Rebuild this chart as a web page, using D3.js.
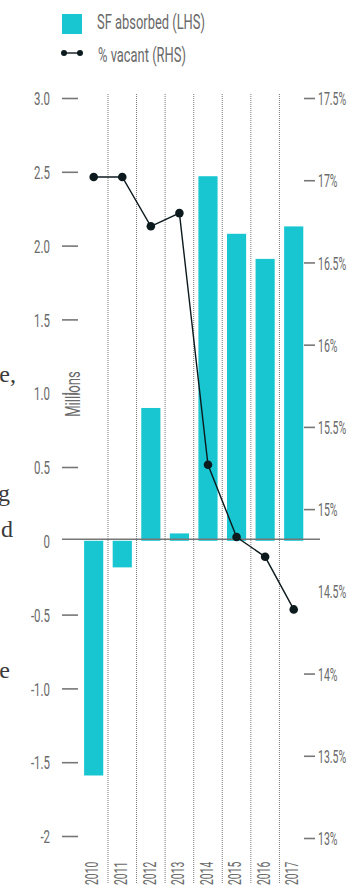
<!DOCTYPE html>
<html>
<head>
<meta charset="utf-8">
<script src="https://cdn.jsdelivr.net/npm/d3@7"></script>
<style>
  html, body { margin: 0; padding: 0; background: #fff; }
  svg { display: block; }
</style>
</head>
<body>
<svg id="chart" width="356" height="888"></svg>
<script>
// Office market: square feet absorbed (left axis, millions) and vacancy rate (right axis)
const years = ["2010", "2011", "2012", "2013", "2014", "2015", "2016", "2017"];
const sfAbsorbed = [-1.59, -0.18, 0.90, 0.05, 2.47, 2.08, 1.91, 2.13];
const pctVacant = [17.02, 17.02, 16.72, 16.80, 15.27, 14.83, 14.71, 14.39];

const leftTicks = [3.0, 2.5, 2.0, 1.5, 1.0, 0.5, 0, -0.5, -1.0, -1.5, -2];
const leftTickLabels = ["3.0", "2.5", "2.0", "1.5", "1.0", "0.5", "0", "-0.5", "-1.0", "-1.5", "-2"];
const rightTicks = [17.5, 17, 16.5, 16, 15.5, 15, 14.5, 14, 13.5, 13];
const rightTickLabels = ["17.5%", "17%", "16.5%", "16%", "15.5%", "15%", "14.5%", "14%", "13.5%", "13%"];

// Fragments of the neighbouring body copy, clipped by the left page edge
const marginText = [
  { t: "e,", x: 16, y: 382 },
  { t: "g", x: 10, y: 501 },
  { t: "d", x: 13, y: 537 },
  { t: "e", x: 10, y: 678 }
];

const BAR = "#17c6d1";
const LINE = "#0c1a1e";
const GREY = "#6a6a6a";
const FONT = "Roboto, 'Open Sans', sans-serif";

const svg = d3.select("#chart");

const x = d3.scaleBand().domain(years).range([79.4, 308]).paddingInner(0.33).paddingOuter(0.165);
const yL = d3.scaleLinear().domain([-2, 3]).range([836, 98]);
const yR = d3.scaleLinear().domain([13, 17.5]).range([838, 98]);

// condensed look: squeeze each label horizontally around its anchor
function squeeze(sel, sx) {
  sel.each(function () {
    const t = d3.select(this);
    const px = +t.attr("x") || 0;
    t.attr("x", 0).attr("transform", `translate(${px},0) scale(${sx},1)`);
  });
}

// margin text
svg.append("g").selectAll("text").data(marginText).join("text")
  .attr("x", d => d.x).attr("y", d => d.y)
  .attr("text-anchor", "end")
  .attr("font-family", "'Liberation Serif', 'DejaVu Serif', serif")
  .attr("font-size", 24)
  .attr("fill", "#3a3a3a")
  .text(d => d.t);

// dotted column separators
const step = x.step();
const seps = d3.range(1, years.length).map(i => x.range()[0] + i * step);
svg.append("g").selectAll("line").data(seps).join("line")
  .attr("x1", d => d).attr("x2", d => d)
  .attr("y1", 94).attr("y2", 884)
  .attr("stroke", "#7a7a7a").attr("stroke-width", 1)
  .attr("stroke-dasharray", "1,1");

// left axis
const gL = svg.append("g").attr("transform", "translate(78,0)")
  .call(d3.axisLeft(yL).tickValues(leftTicks).tickSize(16).tickPadding(12)
    .tickFormat((d, i) => leftTickLabels[i]));
gL.select(".domain").remove();
gL.selectAll(".tick line").attr("stroke", "#777").attr("stroke-width", 1.6)
  .filter(d => d === 0).remove();
gL.selectAll(".tick text").attr("fill", GREY).attr("font-family", FONT)
  .attr("font-weight", 400).attr("font-size", 18.5).attr("dy", "0.36em").call(squeeze, 0.62);

// right axis
const gR = svg.append("g").attr("transform", "translate(304,0)")
  .call(d3.axisRight(yR).tickValues(rightTicks).tickSize(11).tickPadding(3)
    .tickFormat((d, i) => rightTickLabels[i]));
gR.select(".domain").remove();
gR.selectAll(".tick line").attr("stroke", "#777").attr("stroke-width", 1.6)
  .filter(d => d === 14.5).remove();
gR.selectAll(".tick text").attr("fill", GREY).attr("font-family", FONT)
  .attr("font-weight", 400).attr("font-size", 18.5).attr("dy", "0.36em").call(squeeze, 0.57);

// bars
svg.append("g").selectAll("rect").data(years).join("rect")
  .attr("x", d => x(d))
  .attr("width", x.bandwidth())
  .attr("y", (d, i) => Math.min(yL(0), yL(sfAbsorbed[i])))
  .attr("height", (d, i) => Math.abs(yL(sfAbsorbed[i]) - yL(0)))
  .attr("fill", BAR);

// zero line
svg.append("line")
  .attr("x1", 62).attr("x2", 320)
  .attr("y1", yL(0) - 1.5).attr("y2", yL(0) - 1.5)
  .attr("stroke", "#777").attr("stroke-width", 1.6);

// vacancy line
const cx = d => x(d) + x.bandwidth() / 2;
svg.append("path")
  .datum(years)
  .attr("fill", "none").attr("stroke", LINE).attr("stroke-width", 1.4)
  .attr("d", d3.line().x(d => cx(d)).y((d, i) => yR(pctVacant[i])));
svg.append("g").selectAll("circle").data(years).join("circle")
  .attr("cx", d => cx(d)).attr("cy", (d, i) => yR(pctVacant[i]))
  .attr("r", 4.3).attr("fill", LINE);

// year labels
svg.append("g").selectAll("text").data(years).join("text")
  .attr("transform", d => `translate(${cx(d) - 1.5},885) rotate(-90) scale(0.56,1)`)
  .attr("dominant-baseline", "central")
  .attr("fill", GREY).attr("font-family", FONT).attr("font-weight", 400)
  .attr("font-size", 18.5)
  .text(d => d);

// left axis title
svg.append("text")
  .attr("transform", "translate(73,394) rotate(-90) scale(0.64,1)")
  .attr("text-anchor", "middle").attr("dominant-baseline", "central")
  .attr("fill", GREY).attr("font-family", FONT).attr("font-weight", 400)
  .attr("font-size", 20.5)
  .text("Millions");

// legend
const lg = svg.append("g");
lg.append("rect").attr("x", 62).attr("y", 14).attr("width", 20).attr("height", 20).attr("fill", BAR);
lg.append("line").attr("x1", 64).attr("x2", 80).attr("y1", 53).attr("y2", 53)
  .attr("stroke", LINE).attr("stroke-width", 1.4);
lg.selectAll("circle").data([64, 80]).join("circle")
  .attr("cx", d => d).attr("cy", 53).attr("r", 3).attr("fill", LINE);
lg.selectAll("text").data(["SF absorbed (LHS)", "% vacant (RHS)"]).join("text")
  .attr("transform", (d, i) => `translate(${i ? 98 : 97},${i ? 62 : 29}) scale(0.63,1)`)
  .attr("fill", GREY).attr("font-family", FONT).attr("font-weight", 400)
  .attr("font-size", 20.5)
  .text(d => d);
</script>
</body>
</html>
